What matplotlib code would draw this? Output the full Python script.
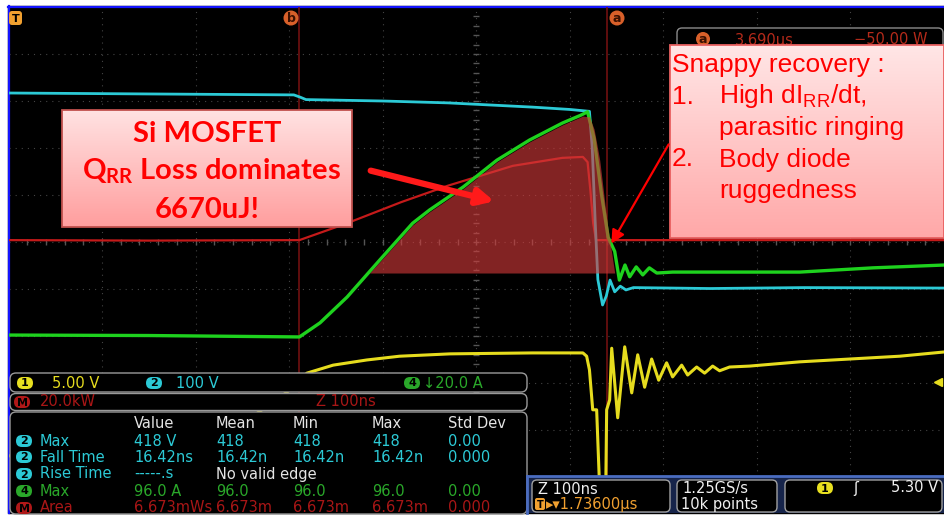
import numpy as np
import matplotlib.pyplot as plt
from matplotlib.patches import Rectangle, FancyBboxPatch, Circle

# traces: time in ns (100 ns/div), level in divisions from bottom of graticule
cyan_t = [0, 150, 305, 312, 318, 400, 470, 560, 600, 621, 624, 627, 630, 635, 639, 643, 648, 654, 660, 668, 750, 850, 1000]
cyan_v = [8.17, 8.15, 8.13, 8.08, 8.03, 8.00, 7.96, 7.87, 7.82, 7.78, 7.00, 5.50, 4.20, 3.66, 3.85, 4.19, 3.94, 4.06, 3.98, 4.03, 4.01, 4.03, 4.02]

green_t = [0, 150, 311, 333, 362, 397, 432, 450, 486, 522, 557, 592, 612, 619, 626, 634, 641, 648, 653, 659, 664, 671, 678, 685, 693, 710, 846, 924, 1000]
green_v = [3.02, 3.01, 2.98, 3.28, 3.83, 4.62, 5.40, 5.68, 6.17, 6.74, 7.17, 7.53, 7.70, 7.77, 7.20, 6.00, 5.10, 4.80, 4.19, 4.51, 4.26, 4.47, 4.30, 4.45, 4.34, 4.36, 4.36, 4.45, 4.51]

red_t = [0, 150, 311, 362, 420, 470, 539, 592, 614, 619, 622, 625, 628, 1000]
red_v = [5.04, 5.03, 5.04, 5.40, 5.85, 6.20, 6.62, 6.79, 6.81, 6.70, 6.10, 5.40, 5.04, 5.04]

yel_t = [0, 200, 237, 266, 298, 319, 347, 383, 418, 472, 560, 614, 618, 621, 624.5, 628.7, 632, 638.4, 639.4,
         642.6, 644.8, 651.2, 658.7, 666.2, 672.6, 680, 687.5, 695, 703.5, 709.9, 719.6, 726, 735.6, 744.1,
         752.7, 760.1, 770.8, 792.2, 845.6, 899, 952.6, 1000]
yel_v = [0.45, 0.50, 0.79, 1.36, 1.81, 2.21, 2.38, 2.49, 2.57, 2.62, 2.64, 2.64, 2.57, 2.28, 1.43, 1.43, -0.3, -0.3, 1.43,
         1.64, 2.74, 1.26, 2.77, 1.79, 2.60, 1.91, 2.51, 2.06, 2.43, 2.13, 2.38, 2.17, 2.34, 2.21,
         2.36, 2.26, 2.34, 2.36, 2.45, 2.51, 2.57, 2.66]

# gated area (math area measurement)
shade_t = [386, 397, 432, 450, 486, 522, 557, 592, 614, 621, 626, 632, 640, 648]
shade_top = [4.34, 4.58, 5.36, 5.64, 6.13, 6.70, 7.13, 7.49, 7.68, 7.66, 7.40, 6.74, 5.40, 4.34]
shade_base = 4.34

cursor_t = [311, 640]

# measurement table
meas_header = ['Value', 'Mean', 'Min', 'Max', 'Std Dev']
meas_src = ['2', '2', '2', '4', 'M']
meas_name = ['Max', 'Fall Time', 'Rise Time', 'Max', 'Area']
meas_vals = [
    ['418 V', '418', '418', '418', '0.00'],
    ['16.42ns', '16.42n', '16.42n', '16.42n', '0.000'],
    ['-----.s', 'No valid edge', '', '', ''],
    ['96.0 A', '96.0', '96.0', '96.0', '0.00'],
    ['6.673mWs', '6.673m', '6.673m', '6.673m', '0.000'],
]

YEL = '#e6dc1e'
CYA = '#2ccad6'
GRN = '#1ed21e'
RED = '#c41a1a'
ORG = '#d8602a'

plt.rcParams['mathtext.fontset'] = 'custom'
plt.rcParams['mathtext.rm'] = 'Liberation Sans'
plt.rcParams['mathtext.it'] = 'Liberation Sans:italic'
plt.rcParams['mathtext.bf'] = 'Lato:bold'

W, H = 944, 517


def px_box(x0, y0, x1, y1):
    return [x0 / W, 1 - y1 / H, (x1 - x0) / W, (y1 - y0) / H]


def pixel_axes(z):
    a = fig.add_axes([0, 0, 1, 1], zorder=z)
    a.set_xlim(0, W)
    a.set_ylim(H, 0)
    a.axis('off')
    return a


def badge(a, x, y, label, color, w=16, h=12, tc='black'):
    a.add_patch(FancyBboxPatch((x - w / 2, y - h / 2), w, h,
                               boxstyle='round,pad=0,rounding_size=%g' % (h / 2),
                               fc=color, ec='none', zorder=9))
    a.text(x, y + 0.5, label, color=tc, fontsize=8, fontweight='bold', ha='center', va='center', zorder=10)


def gradient_box(a, x0, y0, x1, y1, c0, c1, ec):
    s = np.linspace(0, 1, 100)[:, None, None]
    img = np.array(c0)[None, None, :] + (np.array(c1) - np.array(c0))[None, None, :] * s
    a.imshow(img / 255.0, extent=(x0, x1, y1, y0), aspect='auto', zorder=5, interpolation='bilinear')
    a.add_patch(Rectangle((x0, y0), x1 - x0, y1 - y0, fc='none', ec=ec, lw=1.3, zorder=6))


fig = plt.figure(figsize=(9.44, 5.17), dpi=100)
fig.patch.set_facecolor('white')

# screen background and frame
bg = pixel_axes(0)
bg.add_patch(Rectangle((8, 6), W - 8, 507, color='black'))
bg.plot([8, W], [6.5, 6.5], color='#1414ff', lw=1.6)
bg.plot([8.5, 8.5], [6, 513], color='#1414ff', lw=1.6)

# waveform area, 10 x 10 divisions
ax = fig.add_axes(px_box(8.5, 7, 944, 477), zorder=1)
ax.set_xlim(0, 1000)
ax.set_ylim(0, 10)
ax.axis('off')

for k in range(1, 10):
    ax.axvline(k * 100, color='#444444', lw=0.8, ls=(0, (1, 4.5)), zorder=1)
    ax.axhline(k, color='#444444', lw=0.8, ls=(0, (1, 4.5)), zorder=1)
ax.plot([500] * 49, np.arange(0.2, 9.9, 0.2), ls='none', marker='_', ms=5, color='#555555', zorder=1)
ax.plot(np.arange(20, 1000, 20), [5] * 49, ls='none', marker='|', ms=5, color='#555555', zorder=1)

for t in cursor_t:
    ax.axvline(t, color='#7a1212', lw=1.1, zorder=2)

ax.plot(yel_t, yel_v, color=YEL, lw=2.2, zorder=3)
ax.plot(red_t, red_v, color=RED, lw=1.6, zorder=3)
ax.plot(cyan_t, cyan_v, color=CYA, lw=2.0, zorder=3)
ax.plot(green_t, green_v, color=GRN, lw=2.4, zorder=3)
ax.fill_between(shade_t, shade_base, shade_top, color='#d33a3a', alpha=0.62, lw=0, zorder=4)

# overlays: markers, readouts, callouts
top = pixel_axes(2)

top.add_patch(FancyBboxPatch((9, 11), 13, 14, boxstyle='round,pad=0,rounding_size=3', fc='#f0a030', ec='none'))
top.text(15.5, 18.5, 'T', color='black', fontsize=8, fontweight='bold', ha='center', va='center')
for x, lab in [(291, 'b'), (617, 'a')]:
    top.add_patch(Circle((x, 18), 7.5, fc=ORG, ec='none'))
    top.text(x, 18.5, lab, color='#3a1000', fontsize=9, fontweight='bold', ha='center', va='center')

# cursor readout (mostly hidden by callout)
top.add_patch(FancyBboxPatch((677, 28), 266, 22, boxstyle='round,pad=0,rounding_size=5',
                             fc='black', ec='#8a8a8a', lw=1))
top.add_patch(Circle((703, 39), 7, fc=ORG, ec='none'))
top.text(703, 39.5, 'a', color='#3a1000', fontsize=9, fontweight='bold', ha='center', va='center')
top.text(735, 40, '3.690µs', color='#b42a1a', fontsize=10.5, va='center')
top.text(927, 40, '\u221250.00 W', color='#b42a1a', fontsize=10.5, va='center', ha='right')

top.plot(938, 382, marker='<', color=YEL, ms=6)

# left readout panels
top.add_patch(FancyBboxPatch((10, 373), 517, 19, boxstyle='round,pad=0,rounding_size=6',
                             fc='black', ec='#9a9a9a', lw=1, zorder=7))
top.add_patch(FancyBboxPatch((10, 393.5), 517, 17, boxstyle='round,pad=0,rounding_size=6',
                             fc='black', ec='#9a9a9a', lw=1, zorder=7))
top.add_patch(FancyBboxPatch((10, 412), 517, 102, boxstyle='round,pad=0,rounding_size=6',
                             fc='black', ec='#9a9a9a', lw=1, zorder=7))
tk = dict(fontsize=10.5, va='center', zorder=9)
badge(top, 25, 383, '1', '#e8e020')
top.text(52, 383, '5.00 V', color=YEL, **tk)
badge(top, 154, 383, '2', CYA)
top.text(176, 383, '100 V', color=CYA, **tk)
badge(top, 412, 383, '4', '#2aa82a')
top.text(423, 383, '\u219320.0 A', color='#2aa82a', **tk)
badge(top, 22, 402, 'M', '#b01818')
top.text(40, 402, '20.0kW', color='#a81616', **tk)
top.text(316, 402, 'Z 100ns', color='#a81616', **tk)

col_x = [134, 216, 293, 372, 448]
row_y = [441, 457, 474, 491, 508]
row_col = [CYA, CYA, CYA, '#2aa82a', '#a81616']
badge_col = [CYA, CYA, CYA, '#2aa82a', '#b01818']
for x, h in zip(col_x, meas_header):
    top.text(x, 424, h, color='#e4e4e4', **tk)
for i in range(len(meas_name)):
    badge(top, 24, row_y[i], meas_src[i], badge_col[i])
    top.text(40, row_y[i], meas_name[i], color=row_col[i], **tk)
    for j, v in enumerate(meas_vals[i]):
        c = '#e4e4e4' if v == 'No valid edge' else row_col[i]
        top.text(col_x[j], row_y[i], v, color=c, **tk)

# bottom right panel
top.add_patch(Rectangle((527, 476), 417, 37, fc='#16244a', ec='none', zorder=7))
top.plot([527, 944], [476, 476], color='#4a6cc0', lw=2, zorder=8)
top.plot([527, 527], [476, 513], color='#4a6cc0', lw=2, zorder=8)
for x0, w in [(532, 138), (677, 100), (785, 157)]:
    top.add_patch(FancyBboxPatch((x0, 480), w, 32, boxstyle='round,pad=0,rounding_size=5',
                                 fc='black', ec='#a0a0a0', lw=1, zorder=8))
top.text(538, 489, 'Z 100ns', color='#f0f0f0', **tk)
top.add_patch(FancyBboxPatch((535, 498), 10, 12, boxstyle='round,pad=0,rounding_size=2',
                             fc='#f0a030', ec='none', zorder=9))
top.text(540, 504.5, 'T', color='black', fontsize=7, fontweight='bold', ha='center', va='center', zorder=10)
top.text(546, 504, '\u25b8\u25be1.73600µs', color='#f0a030', **tk)
top.text(682, 489, '1.25GS/s', color='#f0f0f0', **tk)
top.text(681, 504, '10k points', color='#f0f0f0', **tk)
badge(top, 825, 488, '1', '#e8e020')
top.text(853, 488, '\u0283', color='#f0f0f0', **tk)
top.text(938, 488, '5.30 V', color='#f0f0f0', ha='right', fontsize=10.5, va='center', zorder=9)

# callout 1
gradient_box(top, 62, 110, 352, 227, (255, 226, 226), (255, 158, 158), '#c0504d')
ck = dict(color='#ff0000', fontsize=21, fontfamily='Lato', fontweight='bold', ha='center', va='baseline', zorder=7)
top.text(207, 142, 'Si MOSFET', **ck)
top.text(211, 180, r'$\mathbf{Q_{RR}}$ Loss dominates', **ck)
top.text(207, 218, '6670uJ!', **ck)
top.annotate('', xy=(497, 202), xytext=(368, 170),
             arrowprops=dict(arrowstyle='-|>', lw=4.5, color='#ff1a1a', mutation_scale=24), zorder=8)

# callout 2
gradient_box(top, 670, 45, 944, 238, (255, 230, 230), (255, 168, 168), '#e86060')
sk = dict(color='#ff0000', fontsize=19, fontfamily='Liberation Sans', va='baseline', zorder=7)
top.text(672, 72, 'Snappy recovery :', **sk)
top.text(672, 103.5, '1.', **sk)
top.text(719, 103.5, r'High dI$_{\mathrm{RR}}$/dt,', **sk)
top.text(719, 135, 'parasitic ringing', **sk)
top.text(672, 166.5, '2.', **sk)
top.text(719, 166.5, 'Body diode', **sk)
top.text(719, 198, 'ruggedness', **sk)
top.annotate('', xy=(610, 246), xytext=(670, 142),
             arrowprops=dict(arrowstyle='-|>', lw=1.6, color='#ff0000', mutation_scale=20), zorder=8)

top.set_xlim(0, W)
top.set_ylim(H, 0)

fig.savefig('out.png', dpi=100, facecolor='white')
